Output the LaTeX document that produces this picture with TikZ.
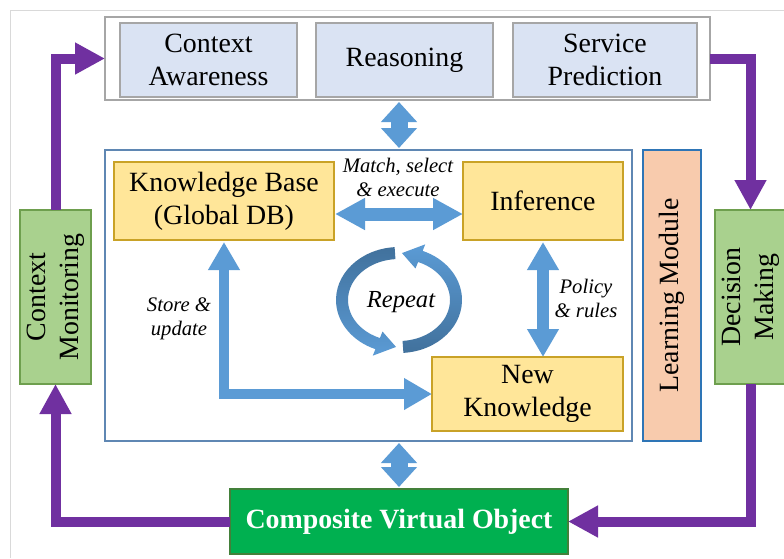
\documentclass[tikz,border=0pt]{standalone}
\usepackage{fontspec}
\setmainfont{Liberation Serif}
\usetikzlibrary{arrows.meta,calc}
\definecolor{boxblue}{HTML}{DAE3F3}
\definecolor{boxgray}{HTML}{A6A6A6}
\definecolor{ylw}{HTML}{FFE699}
\definecolor{ylwb}{HTML}{C9A227}
\definecolor{peach}{HTML}{F8CBAD}
\definecolor{lmborder}{HTML}{2E75B6}
\definecolor{lgreen}{HTML}{A9D18E}
\definecolor{lgreenb}{HTML}{6E9F4E}
\definecolor{dgreen}{HTML}{00B050}
\definecolor{dgreenb}{HTML}{43803A}
\definecolor{purp}{HTML}{7030A0}
\definecolor{arrblue}{HTML}{5B9BD5}
\definecolor{darkblue}{HTML}{41719C}
\definecolor{midborder}{HTML}{5F87B3}
\definecolor{framec}{HTML}{D9D9D9}
\begin{document}
\begin{tikzpicture}[x=0.75pt,y=-0.75pt,
  sz/.style 2 args={minimum width=#1*0.75pt, minimum height=#2*0.75pt, inner sep=0pt, outer sep=0pt},
  txt/.style={font=\fontsize{20.9}{24.75}\selectfont, align=center},
  lbl/.style={font=\fontsize{15.5}{18}\selectfont\itshape, align=center, inner sep=0pt},
  subbox/.style={draw=boxgray, line width=1.5pt, fill=boxblue, txt},
  ybox/.style={draw=ylwb, line width=1.1pt, fill=ylw, txt},
  gbox/.style={draw=lgreenb, line width=1.1pt, fill=lgreen, txt, rotate=90},
  parr/.style={draw=purp, line width=7.5pt, line join=miter, -{Triangle[length=22.5pt, width=22.5pt]}},
  vdbl/.style={draw=arrblue, line width=12.75pt, {Triangle[length=15pt, width=26.25pt]}-{Triangle[length=15pt, width=26.25pt]}, shorten <=1.5pt, shorten >=1.5pt},
  hdbl/.style={draw=arrblue, line width=9.75pt, {Triangle[length=22.5pt, width=22.5pt]}-{Triangle[length=22.5pt, width=22.5pt]}, shorten <=0.75pt},
  idbl/.style={draw=arrblue, line width=9pt, {Triangle[length=21pt, width=22.5pt]}-{Triangle[length=21pt, width=22.5pt]}, shorten <=1.5pt},
  ldbl/.style={draw=arrblue, line width=7.5pt, line join=miter, {Triangle[length=21pt, width=22.5pt]}-{Triangle[length=21pt, width=22.5pt]}, shorten <=1.5pt}
]
\useasboundingbox (0,0) rectangle (784,558);
\fill[white] (0,0) rectangle (784,558);
\draw[framec, line width=0.75pt] (10,558) -- (10,10) -- (784,10);

% top group
\node[draw=boxgray, line width=1.5pt, fill=white, sz={605}{83}] (top) at (407.5,58.5) {};
\node[subbox, sz={177}{74}] (ca) at (208.5,60) {Context\\Awareness};
\node[subbox, sz={177}{74}] (rs) at (404.5,60) {Reasoning};
\node[subbox, sz={184}{74}] (sp) at (605,60) {Service\\Prediction};

% middle group
\node[draw=midborder, line width=1.1pt, sz={527}{291}] (mid) at (368.5,295.5) {};
\node[ybox, sz={220}{78}] (kb) at (224,201) {Knowledge Base\\(Global DB)};
\node[ybox, sz={160}{78}] (inf) at (543,201) {Inference};
\node[ybox, sz={191}{74}] (nk) at (527.5,394) {New\\Knowledge};
\node[draw=lmborder, line width=1.1pt, fill=peach, txt, rotate=90, sz={291}{58}] (lm) at (672,295.5) {Learning Module};

% side boxes
\node[gbox, sz={174}{71}] (cm) at (55.5,297) {Context\\Monitoring};
\node[gbox, sz={174}{71}] (dm) at (750.5,297) {Decision\\Making};

% bottom box
\node[draw=dgreenb, line width=1.1pt, fill=dgreen, sz={338}{65}, text=white, font=\fontsize{20.9}{24.75}\selectfont\bfseries] (cvo) at (399,521.5) {Composite Virtual Object};

% purple loop
\draw[parr] (cm.east) |- (top.west);
\draw[parr] (top.east) -| (dm.east);
\draw[parr] (dm.west) |- (cvo.east);
\draw[parr] (cvo.west) -| (cm.west);

% blue block arrows
\draw[vdbl] (top.south -| cvo.north) -- (mid.north -| cvo.north);
\draw[vdbl] (mid.south -| cvo.north) -- (cvo.north);
\draw[hdbl] ([yshift=-9.75pt]kb.east) -- ([yshift=-9.75pt]inf.west);
\draw[idbl] (inf.south) -- (nk.north -| inf.south);
\draw[ldbl] (kb.south) |- (nk.west);

% repeat circular arrows
\coordinate (rc) at (399,300);
\shade[top color=darkblue, bottom color=arrblue]
  ($(rc)+(-94:63 and 53)$) arc[start angle=-94, end angle=-248, x radius=63, y radius=53]
  -- ($(rc)+(112:70 and 60)$) -- ($(rc)+(93:57 and 47)$) -- ($(rc)+(112:44 and 34)$)
  -- ($(rc)+(112:51 and 41)$) arc[start angle=112, end angle=266, x radius=51, y radius=41] -- cycle;
\shade[top color=arrblue, bottom color=darkblue]
  ($(rc)+(86:63 and 53)$) arc[start angle=86, end angle=-68, x radius=63, y radius=53]
  -- ($(rc)+(-68:70 and 60)$) -- ($(rc)+(-87:57 and 47)$) -- ($(rc)+(-68:44 and 34)$)
  -- ($(rc)+(-68:51 and 41)$) arc[start angle=-68, end angle=86, x radius=51, y radius=41] -- cycle;
\node[font=\fontsize{18.4}{22}\selectfont\itshape, inner sep=0pt] (rep) at (401,302) {Repeat};

% labels
\node[lbl] (mse) at (398,177) {Match, select\\\& execute};
\node[lbl] (su) at (179,319) {Store \&\\update};
\node[lbl] (pr) at (586,298) {Policy\\\& rules};
\end{tikzpicture}
\end{document}
